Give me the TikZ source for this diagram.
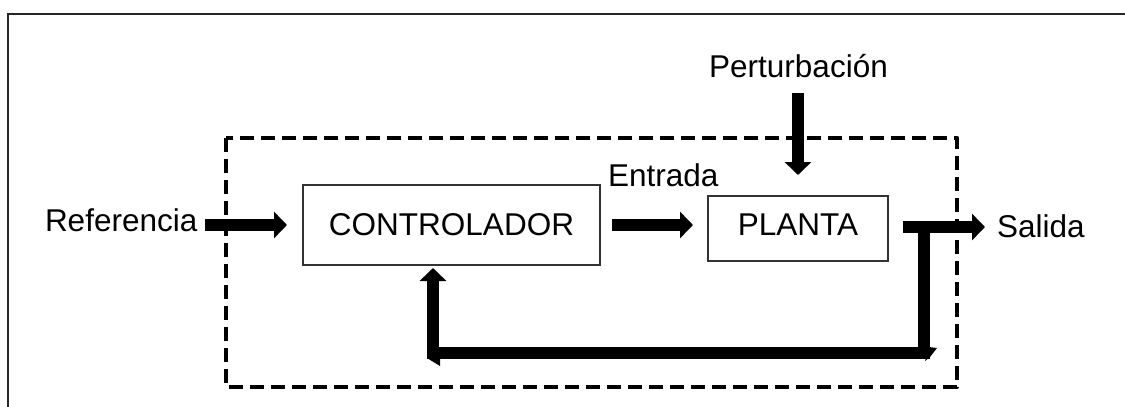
\documentclass[tikz,border=0pt]{standalone}
\usepackage{fontspec}
\setmainfont{Liberation Sans}
\usetikzlibrary{arrows.meta,calc}
\begin{document}
\begin{tikzpicture}[x=1pt,y=-1pt,
  every node/.style={inner sep=0pt,outer sep=0pt,font=\fontsize{31.5}{38}\selectfont},
  blockbox/.style={draw=black!80,line width=1.4pt,fill=white},
  fat/.style={line width=12pt,-{Triangle[length=13pt,width=26pt]},line join=miter},
  dashbox/.style={line width=4.5pt,dash pattern=on 14pt off 7pt,line join=round},
  frameline/.style={line width=2pt,black!85}]
\useasboundingbox (0,0) rectangle (1125,407);
% outer frame
\coordinate (fa) at (8,407);
\coordinate (fb) at (8,14);
\coordinate (fc) at (1125,14);
\draw[frameline] (fa) -- (fb) -- (fc);
% dashed system box
\coordinate (d1) at (226,138);
\coordinate (d2) at (957,387);
\draw[dashbox] (d1) rectangle (d2);
% blocks
\node[blockbox,minimum width=297pt,minimum height=80pt] (ctrl) at (451.5,225) {CONTROLADOR};
\node[blockbox,minimum width=180pt,minimum height=65pt] (planta) at (798,228.5) {};
\node[anchor=base] (plantat) at (798,235) {PLANTA};
% labels
\node[anchor=base west] (ref) at (45,231) {Referencia};
\node[anchor=base west] (ent) at (608,186) {Entrada};
\node[anchor=base] (pert) at (798.5,77) {Perturbación};
\node[anchor=base west] (sal) at (997,237) {Salida};
% arrows
\draw[fat,shorten <=8pt,shorten >=16pt] (ref.east |- ctrl.west) -- (ctrl.west);
\draw[fat,shorten <=12pt,shorten >=15pt] (ctrl.east) -- (ctrl.east -| planta.west);
\draw[fat,shorten <=16pt,shorten >=21pt] (pert.south -| planta.north) -- (planta.north);
\coordinate (outs) at (903,227);
\draw[fat] (outs) -- (outs -| {$(sal.west)+(-12,0)$});
% feedback
\coordinate (fbR) at (924,228);
\coordinate (fbBR) at (924,353);
\coordinate (fbBL) at (433,353);
\draw[fat,shorten >=3pt] (fbR) -- (fbBR) -- (fbBL) -- (fbBL |- ctrl.south);
% small head remnants at the corners
\fill (929,347) -- (937,348) -- (930,357) -- (925,361) -- cycle;
\fill (427,358) -- (440,358) -- (440,366) -- cycle;
\end{tikzpicture}
\end{document}
